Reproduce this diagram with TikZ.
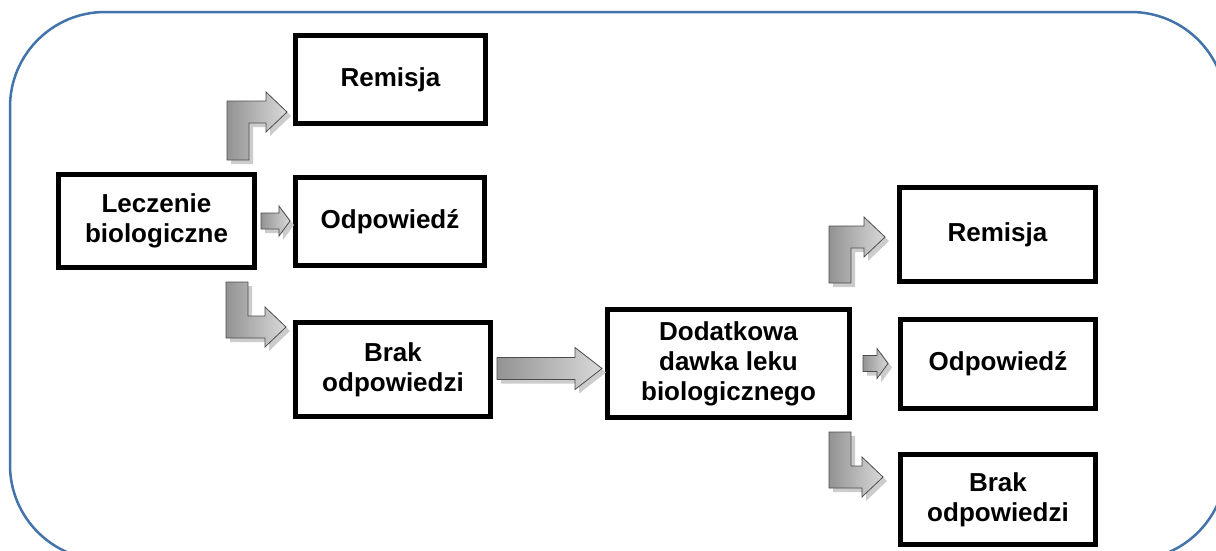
\documentclass[tikz,border=0pt]{standalone}
\usepackage{fontspec}
\setmainfont{Liberation Sans}
\usepackage{tikz}
\usetikzlibrary{shapes,arrows,positioning,calc,shadings}

\definecolor{frameblue}{RGB}{66,115,170}

\tikzset{
  box/.style={draw, line width=5pt, fill=white, align=center, inner sep=0pt,
    font=\bfseries\fontsize{26}{30}\selectfont},
  arrowbody/.style={left color=gray!85, right color=gray!30, draw=gray!60!black, line width=0.8pt},
  arrowshadow/.style={fill=gray!40}
}

% straight block arrow: from, to, half body, half head, head length, style
\newcommand{\flatarrow}[6]{%
  \path[#6] let \p1=(#1), \p2=(#2) in
    (\x1,\y1+#3) -- (\x2-#5,\y1+#3) -- (\x2-#5,\y1+#4) -- (\x2,\y1)
    -- (\x2-#5,\y1-#4) -- (\x2-#5,\y1-#3) -- (\x1,\y1-#3) -- cycle;}
% bent block arrow going up then right
\newcommand{\upbent}[6]{%
  \path[#6] let \p1=(#1), \p2=(#2) in
    (\x1-#3,\y1) -- (\x1-#3,\y2+#3) -- (\x2-#5,\y2+#3) -- (\x2-#5,\y2+#4) -- (\x2,\y2)
    -- (\x2-#5,\y2-#4) -- (\x2-#5,\y2-#3) -- (\x1+#3,\y2-#3) -- (\x1+#3,\y1) -- cycle;}
% bent block arrow going down then right
\newcommand{\downbent}[6]{%
  \path[#6] let \p1=(#1), \p2=(#2) in
    (\x1-#3,\y1) -- (\x1-#3,\y2-#3) -- (\x2-#5,\y2-#3) -- (\x2-#5,\y2-#4) -- (\x2,\y2)
    -- (\x2-#5,\y2+#4) -- (\x2-#5,\y2+#3) -- (\x1+#3,\y2+#3) -- (\x1+#3,\y1) -- cycle;}

\begin{document}
\begin{tikzpicture}[x=1pt,y=-1pt]
  \useasboundingbox (0,0) rectangle (1216,550);
  \draw[frameblue, line width=2.5pt, rounded corners=95pt] (10,12) rectangle (1226,560);

  \node[box, minimum width=196pt, minimum height=93pt] (lecz) at (156.5,221) {Leczenie\\biologiczne};
  \node[box, minimum width=190pt, minimum height=88pt] (rem1) at (390.5,79.5) {Remisja};
  \node[box, minimum width=189pt, minimum height=88pt] (odp1) at (390,221.5) {Odpowiedź};
  \node[box, minimum width=195pt, minimum height=94pt] (brak1) at (393,369.5) {Brak\\odpowiedzi};
  \node[box, minimum width=242pt, minimum height=108pt] (dawka) at (728.5,363.5) {Dodatkowa\\dawka leku\\biologicznego};
  \node[box, minimum width=196pt, minimum height=94pt] (rem2) at (997.5,234.5) {Remisja};
  \node[box, minimum width=195pt, minimum height=89pt] (odp2) at (998,364) {Odpowiedź};
  \node[box, minimum width=195pt, minimum height=90pt] (brak2) at (998,499.5) {Brak\\odpowiedzi};

  % shadows
  \upbent{$(lecz.north east)+(-15,-8)$}{$(rem1.south west)+(-2,-10)$}{11pt}{20pt}{21pt}{arrowshadow}
  \downbent{$(lecz.south east)+(-16,16)$}{$(brak1.north west)+(-3,11)$}{11pt}{20pt}{21pt}{arrowshadow}
  \flatarrow{$(lecz.east)+(8,4)$}{$(odp1.west)+(1,4)$}{8pt}{15pt}{11pt}{arrowshadow}
  \flatarrow{$(brak1.east)+(8,3)$}{$(dawka.west)+(1,3)$}{11pt}{21pt}{27pt}{arrowshadow}
  \flatarrow{$(dawka.east)+(15,4)$}{$(odp2.west)+(-6,4)$}{8pt}{15pt}{11pt}{arrowshadow}
  \upbent{$(dawka.north east)+(-8,-20)$}{$(rem2.west)+(-8,6.5)$}{11pt}{20pt}{21pt}{arrowshadow}
  \downbent{$(dawka.south east)+(-8,16)$}{$(brak2.north west)+(-11,29)$}{11pt}{20pt}{21pt}{arrowshadow}

  % arrows
  \upbent{$(lecz.north east)+(-19,-12)$}{$(rem1.south west)+(-6,-14)$}{11pt}{20pt}{21pt}{arrowbody}
  \downbent{$(lecz.south east)+(-20,12)$}{$(brak1.north west)+(-7,7)$}{11pt}{20pt}{21pt}{arrowbody}
  \flatarrow{$(lecz.east)+(4,0)$}{$(odp1.west)+(-3,0)$}{8pt}{15pt}{11pt}{arrowbody}
  \flatarrow{$(brak1.east)+(4,-1)$}{$(dawka.west)+(-3,-1)$}{11pt}{21pt}{27pt}{arrowbody}
  \flatarrow{$(dawka.east)+(11,0)$}{$(odp2.west)+(-10,0)$}{8pt}{15pt}{11pt}{arrowbody}
  \upbent{$(dawka.north east)+(-12,-24)$}{$(rem2.west)+(-12,2.5)$}{11pt}{20pt}{21pt}{arrowbody}
  \downbent{$(dawka.south east)+(-12,12)$}{$(brak2.north west)+(-15,25)$}{11pt}{20pt}{21pt}{arrowbody}
\end{tikzpicture}
\end{document}
